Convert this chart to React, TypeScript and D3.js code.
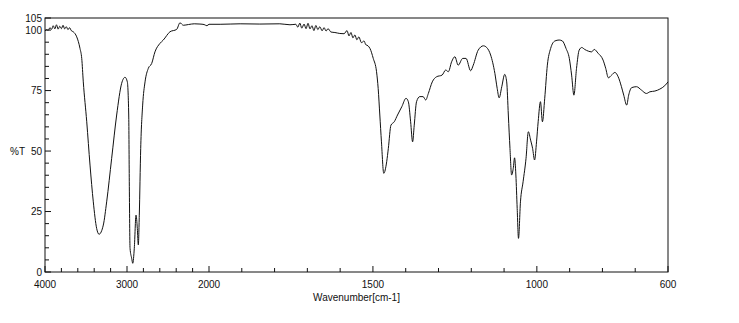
import React from "react";
import * as d3 from "d3";

const wavenumbers = [
  4000, 3980, 3960, 3940, 3920, 3900, 3880, 3860, 3840, 3820, 3800, 3780, 3760, 3740, 3720, 3700, 3680,
  3655, 3613, 3573, 3552, 3533, 3491, 3451, 3411, 3370, 3341, 3289, 3248, 3187, 3126, 3065, 3024, 2996,
  2979, 2972, 2963, 2943, 2930, 2911, 2890, 2874, 2862, 2850, 2833, 2809, 2780, 2740, 2699, 2659, 2598,
  2557, 2476, 2394, 2354, 2313, 2250, 2180, 2110, 2060, 2025, 2000, 1966, 1905, 1845, 1784, 1753, 1735,
  1729, 1723, 1717, 1710, 1704, 1698, 1692, 1686, 1680, 1674, 1668, 1662, 1655, 1649, 1643, 1637, 1628,
  1616, 1601, 1588, 1579, 1573, 1567, 1561, 1555, 1549, 1543, 1535, 1527, 1522, 1515, 1509,
  1499, 1489, 1484, 1479, 1474, 1467, 1458, 1453, 1445, 1435, 1425, 1412,
  1399, 1392, 1385, 1379, 1374, 1367, 1357, 1347, 1339, 1331, 1319, 1306, 1289, 1278, 1270, 1260, 1250,
  1240, 1226, 1216, 1202, 1194, 1179, 1163, 1153, 1141, 1128, 1121, 1115, 1107, 1098, 1092, 1087, 1082,
  1077, 1072, 1068, 1064, 1060, 1056, 1050, 1042, 1033, 1026, 1019, 1013, 1007, 1001, 996, 989, 983, 976,
  968, 958, 945, 932, 922, 911, 901, 894, 887, 879, 871, 863, 854, 843, 833, 825, 813, 798, 790, 782,
  772, 762, 752, 742, 735, 726, 720, 711, 696, 681, 666, 655, 640, 625, 610, 600,
];

const transmittance = [
  99.6, 100.2, 99.9, 101, 100.3, 101.8, 100.5, 102.2, 100.4, 101.6, 100.6, 102, 100.5, 101.4, 100.2, 101, 99.8,
  99.3, 97.2, 92.4, 88.3, 78.6, 62.1, 44.2, 29, 18, 15.6, 19.4, 29, 47, 64.9, 78, 80.5, 78.6,
  64.9, 37.3, 9.8, 5.7, 3.6, 9.8, 23.5, 18, 11.2, 23.5, 51, 69, 78.6, 84.2, 86.2, 91, 94.5,
  95.9, 99.3, 100.3, 103, 102, 102.3, 102.6, 102.5, 102.3, 101.8, 102.4, 102.4, 102.6, 102.5, 102.6, 102.2, 102.4,
  101.2, 102.9, 100.8, 102.5, 100.6, 102.8, 100.5, 101.8, 99.8, 101.9, 100.2, 101.4, 99.7, 101, 99.6, 100.6, 99.2,
  99, 98.6, 98.5, 99.8, 97.6, 99, 96.8, 98, 96, 97.2, 94.8, 95.5, 94, 93.5, 92.4,
  88.3, 82.8, 75.9, 64.9, 53.8, 40.8, 45.6, 51.1, 60.7, 62.1, 64.9, 68.3,
  71.8, 70.4, 62.1, 53.8, 60.7, 70.4, 72.5, 72.5, 71.1, 73.8, 78.6, 80.7, 81.4, 83.5, 82.8, 86.9, 89,
  85.5, 88.3, 88.3, 83.2, 85.5, 91.7, 93.5, 92.8, 89.7, 82.1, 75.9, 72, 76.6, 81.7, 78.6, 64.9, 51.1,
  40.1, 42.8, 47.2, 40.1, 26.3, 13.9, 29, 37.3, 47, 58, 54.5, 51.1, 46.3, 53.8, 62.1, 70.4, 62.1, 71.8,
  85.5, 92.4, 95.5, 95.9, 95.5, 92.4, 88.3, 81.4, 73.1, 84.2, 91.7, 92.8, 92, 91.3, 91, 92, 90.4, 87.6, 84.2, 80.3,
  81.4, 82.5, 80.7, 76.6, 73.1, 69, 73.1, 76.2, 76.6, 75.2, 73.8, 74.5, 74.8, 75.6, 77, 78.6,
];

const xTickLabels = [4000, 3000, 2000, 1500, 1000, 600];
const yTickLabels = [0, 25, 50, 75, 100, 105];

const W = 739;
const H = 323;

export default function App() {
  const x = d3.scaleLinear().domain([4000, 2000, 600]).range([45, 209, 668]);
  const y = d3.scaleLinear().domain([0, 105]).range([272, 18]);

  const data = wavenumbers.map((w, i) => [w, transmittance[i]] as [number, number]);
  const line = d3
    .line<[number, number]>()
    .x((d) => x(d[0]))
    .y((d) => y(d[1]))
    .curve(d3.curveMonotoneX);

  const xMinor: number[] = [];
  for (let v = 4000; v >= 2000; v -= 200) xMinor.push(v);
  for (let v = 1900; v >= 600; v -= 100) xMinor.push(v);
  const yMinor: number[] = [];
  for (let v = 0; v <= 105; v += 5) yMinor.push(v);

  const x0 = x(4000);
  const x1 = x(600);
  const y0 = y(0);
  const y1 = y(105);
  const font = "'Liberation Sans', Arial, sans-serif";

  return (
    <svg
      width={W}
      height={H}
      style={{ position: "absolute", left: 0, top: 0, background: "#fff" }}
      fontFamily={font}
    >
      <rect x={0} y={0} width={W} height={H} fill="#fff" />
      <path d={line(data.slice().sort((a, b) => b[0] - a[0])) || ""} fill="none" stroke="#111" strokeWidth={1} />
      <rect x={x0} y={y1} width={x1 - x0} height={y0 - y1} fill="none" stroke="#111" strokeWidth={1} />
      {xMinor.map((v) => {
        const major = xTickLabels.includes(v);
        return (
          <line key={"xt" + v} x1={x(v)} x2={x(v)} y1={y0} y2={y0 - (major ? 6 : 4)} stroke="#111" strokeWidth={1} />
        );
      })}
      {yMinor.map((v) => {
        const major = yTickLabels.includes(v);
        return (
          <line key={"yt" + v} x1={x0} x2={x0 + (major ? 6 : 4)} y1={y(v)} y2={y(v)} stroke="#111" strokeWidth={1} />
        );
      })}
      {xTickLabels.map((v) => (
        <text key={"xl" + v} x={x(v)} y={y0 + 16} fontSize={10} textAnchor="middle" fill="#111">
          {v}
        </text>
      ))}
      {yTickLabels.map((v) => (
        <text key={"yl" + v} x={x0 - 3} y={y(v) + 3.5} fontSize={10} textAnchor="end" fill="#111">
          {v}
        </text>
      ))}
      <text x={10} y={y(50) + 3.5} fontSize={10} fill="#111">
        %T
      </text>
      <text x={(x0 + x1) / 2} y={y0 + 29} fontSize={10} textAnchor="middle" fill="#111">
        Wavenumber[cm-1]
      </text>
    </svg>
  );
}
